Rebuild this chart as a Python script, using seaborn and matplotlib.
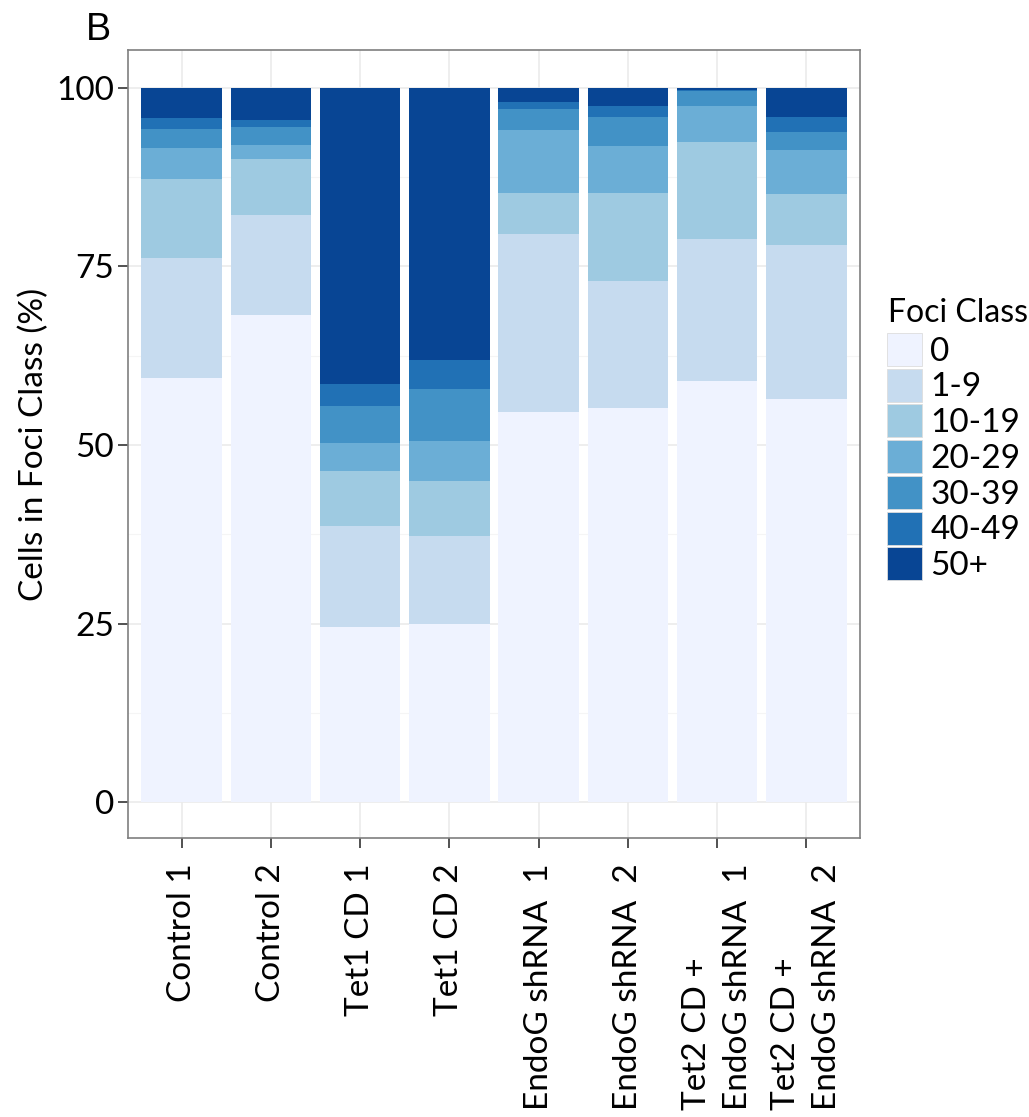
import matplotlib
matplotlib.use("Agg")
import matplotlib.pyplot as plt
from matplotlib.patches import Patch
from matplotlib.ticker import MultipleLocator
import seaborn as sns
import pandas as pd
import numpy as np

groups = ["Control 1", "Control 2", "Tet1 CD 1", "Tet1 CD 2",
          "EndoG shRNA  1", "EndoG shRNA  2",
          "Tet2 CD +\nEndoG shRNA  1", "Tet2 CD +\nEndoG shRNA  2"]
classes = ["0", "1-9", "10-19", "20-29", "30-39", "40-49", "50+"]
colors = ["#eff3ff", "#c6dbef", "#9ecae1", "#6baed6", "#4292c6", "#2171b5", "#084594"]

# percent of cells per foci class (rows = classes, cols = groups)
pct_0     = [59.4, 68.2, 24.5, 24.9, 54.6, 55.2, 59.0, 56.4]
pct_1_9   = [16.8, 14.0, 14.2, 12.4, 25.0, 17.8, 19.9, 21.6]
pct_10_19 = [11.1,  7.9,  7.7,  7.7,  5.7, 12.3, 13.5,  7.2]
pct_20_29 = [ 4.3,  1.9,  3.9,  5.6,  8.8,  6.6,  5.1,  6.1]
pct_30_39 = [ 2.7,  2.5,  5.2,  7.2,  3.0,  4.0,  2.1,  2.5]
pct_40_49 = [ 1.5,  1.0,  3.0,  4.1,  0.9,  1.6,  0.1,  2.1]
pct_50p   = [ 4.2,  4.5, 41.5, 38.1,  2.0,  2.5,  0.3,  4.1]

series = [pct_0, pct_1_9, pct_10_19, pct_20_29, pct_30_39, pct_40_49, pct_50p]
vals = np.array(series, dtype=float)
vals = vals / vals.sum(axis=0) * 100
cum = np.cumsum(vals, axis=0)

sns.set_theme(style="whitegrid")
plt.rcParams['font.family'] = ['Lato', 'DejaVu Sans']
plt.rcParams['text.color'] = 'black'
plt.rcParams['axes.labelcolor'] = 'black'

fig = plt.figure(figsize=(10.29, 11.17), dpi=100)
ax = fig.add_axes([128/1029, 1 - 838/1117, (860-128)/1029, (838-50)/1117])

for i in range(len(classes) - 1, -1, -1):
    df = pd.DataFrame({"group": groups, "cum": cum[i]})
    sns.barplot(data=df, x="group", y="cum", color=colors[i], width=0.9,
                saturation=1, ax=ax, order=groups, linewidth=0, zorder=2)

ax.set_xlim(-0.6, 7.6)
ax.set_ylim(-5, 105.3)
ax.set_yticks([0, 25, 50, 75, 100])
ax.yaxis.set_minor_locator(MultipleLocator(12.5))
ax.set_facecolor("white")
ax.grid(True, which="major", color="#ebebeb", linewidth=1.2, zorder=0)
ax.grid(True, which="minor", axis="y", color="#f5f5f5", linewidth=0.8, zorder=0)
ax.set_axisbelow(True)
for s in ax.spines.values():
    s.set_visible(True)
    s.set_color("#7f7f7f")
    s.set_linewidth(1.2)

ax.tick_params(axis="both", which="major", length=7, width=1.2, color="#333333",
               labelsize=24, labelcolor="black", direction="out")
ax.tick_params(axis="y", pad=3)
ax.tick_params(axis="x", pad=11)
ax.tick_params(axis="both", which="minor", length=0)
ax.tick_params(bottom=True, left=True)
ax.set_xticks(range(len(groups)))
ax.set_xticklabels(groups, rotation=90, ha="center", va="top",
                   multialignment="left", fontsize=24, linespacing=1.45)
ax.set_xlabel("")
ax.set_ylabel("Cells in Foci Class (%)", fontsize=24, labelpad=5)

fig.text(86/1029, 1 - 40/1117, "B", fontsize=27, color="black",
         family=["Liberation Sans", "DejaVu Sans"], ha="left", va="baseline")

# legend title drawn as text, entries as a legend
fig.text(888/1029, 1 - 322/1117, "Foci Class", fontsize=23, color="black",
         ha="left", va="baseline")
handles = [Patch(facecolor=c, edgecolor="#dddddd", linewidth=0.6) for c in colors]
leg = fig.legend(handles, classes, loc="upper left",
                 bbox_to_anchor=(887/1029, 1 - 333/1117),
                 frameon=False, fontsize=24,
                 handlelength=1.05, handleheight=1.14,
                 labelspacing=0.06, handletextpad=0.25, borderpad=0.0,
                 borderaxespad=0.0)

fig.savefig("out.png", dpi=100)
